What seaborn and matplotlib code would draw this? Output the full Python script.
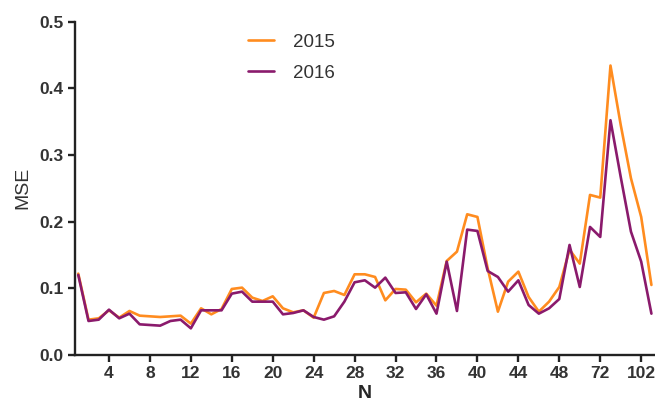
import numpy as np
import pandas as pd
import matplotlib
matplotlib.use("Agg")
import matplotlib.pyplot as plt
import seaborn as sns

# N values along the x axis (categorical, evenly spaced)
n_values = list(range(1, 49)) + [50, 56, 64, 72, 78, 84, 96, 102, 108]
shown_ticks = [4, 8, 12, 16, 20, 24, 28, 32, 36, 40, 44, 48, 72, 102]

mse_2015 = [0.122, 0.053, 0.055, 0.067, 0.056, 0.066, 0.059, 0.058, 0.057, 0.058,
            0.059, 0.047, 0.070, 0.061, 0.069, 0.099, 0.101, 0.086, 0.081, 0.088,
            0.070, 0.064, 0.067, 0.056, 0.093, 0.096, 0.090, 0.121, 0.121, 0.117,
            0.082, 0.099, 0.098, 0.079, 0.092, 0.074, 0.141, 0.155, 0.211, 0.207,
            0.130, 0.065, 0.110, 0.125, 0.087, 0.065, 0.080, 0.102, 0.158, 0.137,
            0.240, 0.236, 0.434, 0.345, 0.265, 0.207, 0.105]

mse_2016 = [0.120, 0.051, 0.053, 0.068, 0.055, 0.062, 0.046, 0.045, 0.044, 0.051,
            0.053, 0.040, 0.067, 0.067, 0.067, 0.092, 0.095, 0.080, 0.080, 0.080,
            0.061, 0.063, 0.067, 0.057, 0.053, 0.058, 0.080, 0.109, 0.112, 0.101,
            0.116, 0.093, 0.094, 0.069, 0.091, 0.062, 0.140, 0.066, 0.188, 0.186,
            0.126, 0.117, 0.095, 0.112, 0.075, 0.062, 0.070, 0.084, 0.165, 0.102,
            0.192, 0.177, 0.352, 0.267, 0.185, 0.140, 0.062]

COLORS = {"2015": "#FF8C1F", "2016": "#8A1A6C"}

pos = np.arange(1, len(n_values) + 1)
df = pd.concat([
    pd.DataFrame({"pos": pos, "N": n_values, "MSE": mse_2015, "year": "2015"}),
    pd.DataFrame({"pos": pos, "N": n_values, "MSE": mse_2016, "year": "2016"}),
])

sns.set_theme(style="ticks")
plt.rcParams["font.family"] = ["Liberation Sans", "DejaVu Sans"]

fig = plt.figure(figsize=(6.55, 4.16), dpi=100)
ax = fig.add_axes([0.1145, 0.1466, 0.8855, 0.8017])

sns.lineplot(data=df, x="pos", y="MSE", hue="year", palette=COLORS,
             linewidth=1.9, ax=ax)

tick_pos = [p for p, n in zip(pos, n_values) if n in shown_ticks]
ax.set_xticks(tick_pos)
ax.set_xticklabels([str(n) for n in n_values if n in shown_ticks],
                   fontweight="bold", fontsize=12.5)
ax.set_xlim(0.68, 57.35)

ax.set_ylim(0, 0.5)
ax.set_yticks(np.arange(0, 0.51, 0.1))
ax.set_yticklabels([f"{v:.1f}" for v in np.arange(0, 0.51, 0.1)],
                   fontweight="bold", fontsize=12.5)

ax.set_xlabel("N", fontweight="bold", fontsize=14, labelpad=3)
ax.set_ylabel("MSE", fontsize=14, labelpad=6, color="#333333")

sns.despine(ax=ax)
for s in ["left", "bottom"]:
    ax.spines[s].set_linewidth(1.7)
    ax.spines[s].set_color("#222222")
ax.tick_params(axis="both", direction="out", length=5, width=1.7,
               color="#222222", labelcolor="#333333", pad=3)

leg = ax.legend(loc="upper left", bbox_to_anchor=(0.27, 1.015), frameon=False,
                fontsize=13.5, handlelength=1.35, handletextpad=1.0,
                labelspacing=0.75)
for line in leg.get_lines():
    line.set_linewidth(1.9)
for t in leg.get_texts():
    t.set_color("#333333")

fig.savefig("out.png", dpi=100)
plt.close(fig)
